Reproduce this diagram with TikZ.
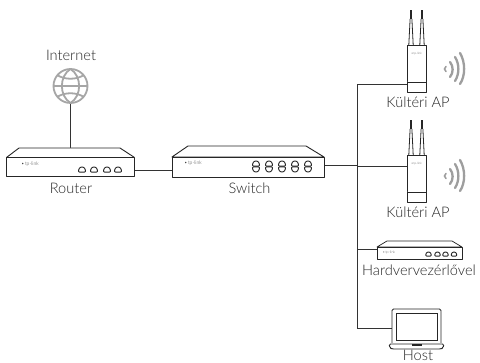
\documentclass[tikz,border=0pt]{standalone}
\usepackage{fontspec}
\setmainfont{Lato Light}
\begin{document}
\begin{tikzpicture}[x=1pt,y=-1pt,
  wire/.style={draw=black!80,line width=0.9pt},
  dev/.style={draw=black!85,line width=0.9pt,line join=round,fill=white},
  thin dev/.style={draw=black!85,line width=0.7pt,line join=round,fill=white},
  lbl/.style={text=black!85,font=\fontsize{14.6}{15}\selectfont,inner sep=0pt,anchor=base},
  brand/.style={text=black!75,font=\fontsize{5}{5}\selectfont,inner sep=0pt},
  port/.pic={\draw[black!85,line width=0.9pt,line join=round,rounded corners=0.8pt] (-3.4,2.6)--(-3.4,0)--(-1.6,-2.4)--(1.6,-2.4)--(3.4,0)--(3.4,2.6)--cycle;},
  portd/.pic={\draw[black!85,line width=0.9pt,line join=round,rounded corners=0.8pt] (-3.4,-2.6)--(-3.4,0)--(-1.6,2.4)--(1.6,2.4)--(3.4,0)--(3.4,-2.6)--cycle;},
  waves/.style={draw=black!38,line width=2.3pt,line cap=round},
  globeline/.style={draw=black!35,line width=1.8pt},
]
\useasboundingbox (0,0) rectangle (480,363);
\fill[white] (0,0) rectangle (480,363);

% trunk and connector anchors
\coordinate (trunktop) at (357.5,84);
\coordinate (trunkap2) at (357.5,166);
\coordinate (trunkhw) at (357.5,249);
\coordinate (trunkhost) at (357.5,328);
\coordinate (trunksw) at (357.5,165);

% devices bodies
\node[draw=none,inner sep=0,minimum size=36pt,circle] (internet) at (70.5,86) {};
\node[inner sep=0,minimum width=128pt,minimum height=19pt,anchor=north west] (routerbody) at (6.5,157.5) {};
\node[inner sep=0,minimum width=152pt,minimum height=20pt,anchor=north west] (switchbody) at (172,157) {};
\node[inner sep=0,minimum width=19pt,minimum height=47pt,anchor=north west] (apa) at (407,45) {};
\node[inner sep=0,minimum width=19pt,minimum height=46pt,anchor=north west] (apb) at (407,155) {};
\node[inner sep=0,minimum width=85pt,minimum height=12pt,anchor=north west] (hw) at (377,247) {};
\node[inner sep=0,minimum width=49pt,minimum height=34pt,anchor=north west] (host) at (392,309) {};

% connectors
\coordinate (routertop) at (70.5,148);
\draw[wire] (internet.south) -- (routertop);
\draw[wire] (routerbody.east |- 0,170.5) -- (switchbody.west |- 0,170.5);
\draw[wire] (switchbody.east |- 0,165) -- (trunksw);
\draw[wire] (apa.west |- trunktop) -- (trunktop) -- (trunkhost) -- (host.west |- trunkhost);
\draw[wire] (trunkap2) -- (apb.west |- trunkap2);
\draw[wire] (trunkhw) -- (hw.west |- trunkhw);

% globe
\draw[globeline] (internet.center) circle (17);
\draw[globeline] (70.5,69) .. controls (59,76) and (59,96) .. (70.5,103);
\draw[globeline] (70.5,69) .. controls (82,76) and (82,96) .. (70.5,103);
\draw[globeline] (57,75) .. controls (65,80) and (76,80) .. (84,75);
\draw[globeline] (57,97) .. controls (65,92) and (76,92) .. (84,97);
\draw[globeline] (53.5,86) -- (87.5,86);

% router
\draw[dev] (19,148) -- (120,148) -- (134.5,157.5) -- (6.5,157.5) -- cycle;
\draw[dev] (6.5,157.5) rectangle (134.5,176.5);
\node[brand] at (30,164) {\textbullet\,tp-link};
\foreach \x in {82,94,107,118} \pic at (\x,169.5) {port};

% switch
\draw[dev] (188,146) -- (306,146) -- (324,157) -- (172,157) -- cycle;
\draw[dev] (172,157) rectangle (324,177);
\node[brand] at (193,163) {\textbullet\,tp-link};
\foreach \x in {256,269,282,295,308} {\pic at (\x,163.5) {port}; \pic at (\x,169.5) {portd};}

% access points and their radio waves
\foreach \y in {0,110} {
  \begin{scope}[shift={(0,\y)}]
  \foreach \ax in {411,422} {
    \draw[black!85,line width=0.8pt] (\ax-2.2,45) -- (\ax-0.9,19) (\ax+0.9,19) -- (\ax+2.2,45);
    \fill[black!85] (\ax-1.1,10) rectangle (\ax+1.1,19);
  }
  \draw[dev] (407,45) rectangle (426,92);
  \draw[dev] (407,82) -- (426,82);
  \node[brand,font=\fontsize{3}{3}\selectfont] at (416.5,54) {\textbullet\,tp-link};
  \end{scope}
}
\foreach \y in {0,107} {
  \begin{scope}[shift={(0,\y)}]
  \draw[waves,line width=1.6pt] (446,66.5) -- (444.5,69) -- (446,71.5);
  \draw[waves] (450,62) .. controls (453.5,66) and (453.5,73) .. (450,77);
  \draw[waves] (455,57) .. controls (459.5,64) and (459.5,74) .. (455,81);
  \draw[waves] (460,53) .. controls (465.5,62) and (465.5,76) .. (460,84);
  \end{scope}
}

% hardware controller
\draw[thin dev] (387,241) -- (452,241) -- (462,247) -- (377,247) -- cycle;
\draw[thin dev] (377,247) rectangle (462,259);
\node[brand,font=\fontsize{3.5}{3.5}\selectfont] at (389,252.5) {\textbullet\,tp-link};
\foreach \x in {428.5,437.5,445.5,454} \pic[scale=0.8] at (\x,254) {port};

% laptop
\draw[dev,rounded corners=1.5pt] (392,343) -- (392,309) -- (441,309) -- (441,343);
\draw[black!85,line width=0.6pt] (396,313) rectangle (437,340);
\draw[dev,rounded corners=1.5pt] (389,344) -- (444,344) -- (443,348) -- (441,349) -- (392,349) -- (390,348) -- cycle;
\fill[black!85] (412,344) rectangle (422,346);

% labels
\node[lbl] (tinternet) at (71,60.5) {Internet};
\node[lbl] (trouter) at (71,194) {Router};
\node[lbl] (tswitch) at (249.5,194) {Switch};
\node[lbl] (tapa) at (418,108) {Kültéri AP};
\node[lbl] (tapb) at (418,218) {Kültéri AP};
\node[lbl] (thw) at (419,276) {Hardvervezérlővel};
\node[lbl] (thost) at (418,361) {Host};
\end{tikzpicture}
\end{document}
